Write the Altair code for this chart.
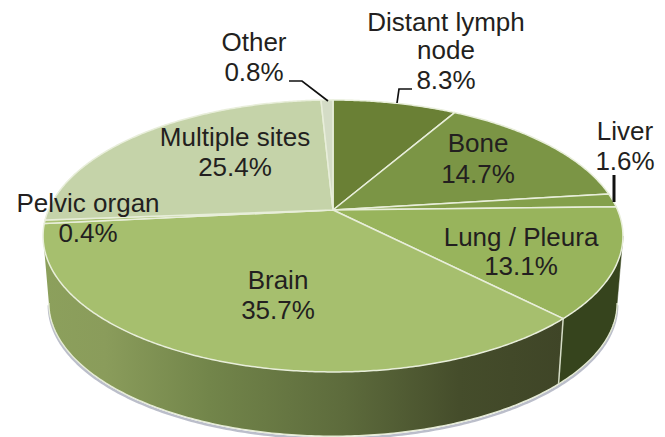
import numpy as np
import pandas as pd
import altair as alt

names = ["Distant lymph node", "Bone", "Liver", "Lung / Pleura", "Brain", "Pelvic organ", "Multiple sites", "Other"]
shares = [8.3, 14.7, 1.6, 13.1, 35.7, 0.4, 25.4, 0.8]
colors = ["#6a8035", "#7b9545", "#84a04b", "#98b45c", "#a6bf6e", "#aac274", "#c5d3a9", "#d4dcc6"]

label_text = [["Distant lymph", "node", "8.3%"], ["Bone", "14.7%"], ["Liver", "1.6%"], ["Lung / Pleura", "13.1%"],
              ["Brain", "35.7%"], ["Pelvic organ", "0.4%"], ["Multiple sites", "25.4%"], ["Other", "0.8%"]]
label_x = [446, 478, 625, 521, 278, 88, 235, 254]
label_y = [[23, 51, 81], [144, 175], [132, 162], [238, 267], [281, 311], [204, 234], [138, 168], [43, 73]]

CX, CY, K_X, K_Y, P = 333.0, 210.0, 284.6, 131.0, 0.191
LOW_S, LOW_Y = 0.98, 277.5
X_MIN, X_MAX, Y_MIN, Y_MAX = 8, 657, 8, 437


def project(theta_deg, lower=False):
    t = np.radians(theta_deg)
    X, Y = np.sin(t), np.cos(t)
    w = 1 + P * Y
    u, v = K_X * X / w, K_Y * Y / w
    if lower:
        return CX + LOW_S * u, LOW_Y - LOW_S * v
    return CX + u, CY - v


cuts = np.concatenate([[0], np.cumsum(shares)]) * 3.6
TANGENT_R = np.degrees(np.arccos(-P))
TANGENT_L = 360 - TANGENT_R

# top face wedges
rows = []
for i, name in enumerate(names):
    rows.append(dict(name=name, i=0, x=CX, y=CY))
    arc = np.linspace(cuts[i], cuts[i + 1], max(3, int((cuts[i + 1] - cuts[i]) * 2)))
    px, py = project(arc)
    for j, (a, b) in enumerate(zip(px, py)):
        rows.append(dict(name=name, i=j + 1, x=float(a), y=float(b)))
top = pd.DataFrame(rows)


def wall(a, b):
    arc = np.linspace(a, b, 160)
    ux, uy = project(arc)
    lx, ly = project(arc[::-1], lower=True)
    return pd.DataFrame({"x": np.concatenate([ux, lx]), "y": np.concatenate([uy, ly]),
                         "i": np.arange(2 * len(arc))})


split = cuts[4]
wall_lung = wall(TANGENT_R, split)
wall_brain = wall(split, TANGENT_L)

arc_all = np.linspace(TANGENT_R, TANGENT_L, 240)
lx, ly = project(arc_all, lower=True)
rim = pd.DataFrame({"x": lx, "y": ly, "i": np.arange(len(lx))})
shadow = rim.assign(y=rim.y + 2.2, x=rim.x + 0.0)

x_enc = alt.X("x:Q", scale=alt.Scale(domain=[X_MIN, X_MAX], nice=False, zero=False), axis=None)
y_enc = alt.Y("y:Q", scale=alt.Scale(domain=[Y_MAX, Y_MIN], nice=False, zero=False), axis=None)
base = dict(x=x_enc, y=y_enc, order=alt.Order("i:Q"))

grad_brain = alt.Gradient(
    gradient="linear", x1=1, x2=0, y1=0, y2=0,
    stops=[alt.GradientStop(offset=0, color="#3f4527"),
           alt.GradientStop(offset=0.20, color="#454d2b"),
           alt.GradientStop(offset=0.42, color="#5d6b3c"),
           alt.GradientStop(offset=0.68, color="#72854a"),
           alt.GradientStop(offset=0.88, color="#8a9c5b"),
           alt.GradientStop(offset=1, color="#8ca05c")])

layers = [
    alt.Chart(shadow).mark_line(stroke="#9ea2b4", strokeWidth=2.5, opacity=0.7).encode(**base),
    alt.Chart(wall_lung).mark_line(interpolate="linear-closed", fill="#36441d", stroke="#36441d", strokeWidth=0.5).encode(**base),
    alt.Chart(wall_brain).mark_line(interpolate="linear-closed", fill=grad_brain, strokeWidth=0).encode(**base),
    alt.Chart(rim).mark_line(stroke="#e6ecd6", strokeWidth=1.4).encode(**base),
]

ux, uy = project(np.array([split]))
lx2, ly2 = project(np.array([split]), lower=True)
divider = pd.DataFrame({"x": [ux[0], lx2[0]], "y": [uy[0], ly2[0]], "i": [0, 1]})
layers.append(alt.Chart(divider).mark_line(stroke="#d5dcc6", strokeWidth=1.5).encode(**base))

layers.append(
    alt.Chart(top).mark_line(interpolate="linear-closed", stroke="#e8eeda", strokeWidth=1.5, strokeJoin="round").encode(
        x=x_enc, y=y_enc, order=alt.Order("i:Q"),
        fill=alt.Fill("name:N", scale=alt.Scale(domain=names, range=colors), legend=None),
    )
)

leaders = pd.DataFrame({
    "g": ["o", "o", "o", "d", "d", "d", "l", "l"],
    "i": [0, 1, 2, 0, 1, 2, 0, 1],
    "x": [289, 302, 328, 397, 399, 412, 614, 614],
    "y": [81, 81, 101, 103, 89, 89, 175, 202],
})
layers.append(alt.Chart(leaders[leaders.g != "l"]).mark_line(stroke="#111111", strokeWidth=1.7).encode(
    x=x_enc, y=y_enc, order=alt.Order("i:Q"), detail="g:N"))
layers.append(alt.Chart(leaders[leaders.g == "l"]).mark_line(stroke="#111111", strokeWidth=3).encode(
    x=x_enc, y=y_enc, order=alt.Order("i:Q")))

lab = pd.DataFrame([dict(t=t, x=label_x[i], y=label_y[i][j])
                    for i, lines in enumerate(label_text) for j, t in enumerate(lines)])
layers.append(alt.Chart(lab).mark_text(font="Liberation Sans", fontSize=26, color="#231f20",
                                       align="center", baseline="middle").encode(x=x_enc, y=y_enc, text="t:N"))

chart = alt.layer(*layers).properties(
    width=X_MAX - X_MIN, height=Y_MAX - Y_MIN,
    padding=0, autosize=alt.AutoSizeParams(type="none"),
    background="white",
).configure_view(stroke=None)

chart.save("out.html", embed_options={"renderer": "svg", "actions": False})
